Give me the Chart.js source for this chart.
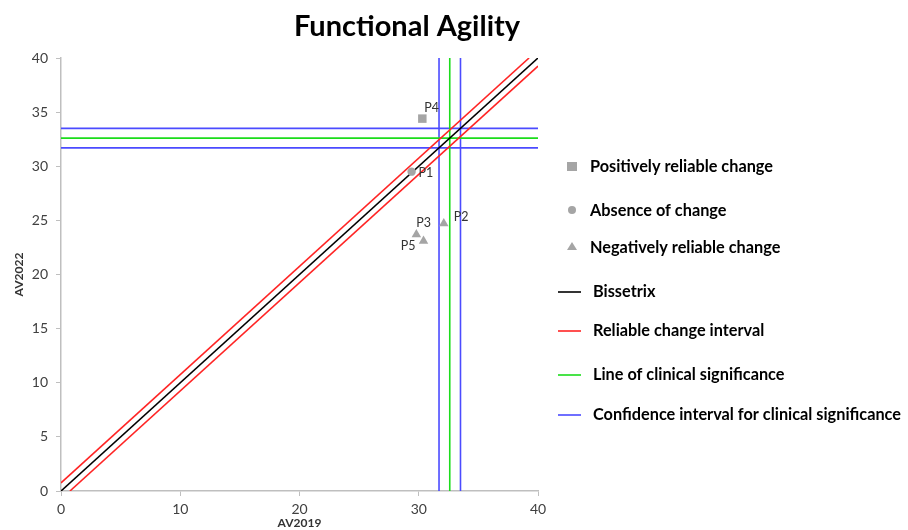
<!DOCTYPE html>
<html>
<head>
<meta charset="utf-8">
<script src="https://cdn.jsdelivr.net/npm/chart.js@4.4.0/dist/chart.umd.min.js"></script>
<style>
  html, body { margin: 0; padding: 0; background: #fff; }
</style>
</head>
<body>
<canvas id="grafico" width="908" height="530"></canvas>
<script>
// Participantes y puntuaciones (AV2019 vs AV2022)
const pacientes = ['P1', 'P2', 'P3', 'P4', 'P5'];
const av2019 = [29.4, 32.1, 29.8, 30.3, 30.4];
const av2022 = [29.5, 24.7, 23.7, 34.4, 23.1];
const tipoCambio = ['absence', 'negative', 'negative', 'positive', 'negative'];

// Umbrales del gráfico
const ejeMin = 0;
const ejeMax = 40;
const puntoCorte = 32.6;      // línea de significancia clínica
const icInferior = 31.7;      // intervalo de confianza
const icSuperior = 33.5;
const intervaloCambio = 0.75; // índice de cambio fiable

const fuente = "Lato, 'Open Sans', sans-serif";

function puntosDe(tipo) {
  return pacientes
    .map((p, i) => ({ x: av2019[i], y: av2022[i], etiqueta: p, tipo: tipoCambio[i] }))
    .filter(d => d.tipo === tipo);
}

function linea(label, datos, color, enLeyenda) {
  return {
    label,
    data: datos,
    showLine: true,
    borderColor: color,
    backgroundColor: color,
    borderWidth: 1.6,
    pointRadius: 0,
    enLeyenda
  };
}

function punto(label, datos, estilo, radio) {
  return {
    label,
    data: datos,
    pointStyle: estilo,
    pointRadius: radio,
    backgroundColor: '#a5a5a5',
    borderColor: '#a0a0a0',
    borderWidth: 0,
    etiquetas: true,
    enLeyenda: true
  };
}

const azul = '#4b4bff';
const verde = '#1bdc1b';
const rojo = '#ff2424';

const datasets = [
  punto('Positively reliable change', puntosDe('positive'), 'rect', 6),
  punto('Absence of change', puntosDe('absence'), 'circle', 4.2),
  punto('Negatively reliable change', puntosDe('negative'), 'triangle', 5.5),
  linea('Bissetrix', [{ x: ejeMin, y: ejeMin }, { x: ejeMax, y: ejeMax }], '#000000', true),
  linea('Reliable change interval', [{ x: ejeMin, y: ejeMin + intervaloCambio }, { x: ejeMax - intervaloCambio, y: ejeMax }], rojo, true),
  linea('RCI inferior', [{ x: ejeMin + intervaloCambio, y: ejeMin }, { x: ejeMax, y: ejeMax - intervaloCambio }], rojo, false),
  linea('Line of clinical significance', [{ x: puntoCorte, y: ejeMin }, { x: puntoCorte, y: ejeMax }], verde, true),
  linea('Corte horizontal', [{ x: ejeMin, y: puntoCorte }, { x: ejeMax, y: puntoCorte }], verde, false),
  linea('Confidence interval for clinical significance', [{ x: icInferior, y: ejeMin }, { x: icInferior, y: ejeMax }], azul, true),
  linea('IC superior vertical', [{ x: icSuperior, y: ejeMin }, { x: icSuperior, y: ejeMax }], azul, false),
  linea('IC inferior horizontal', [{ x: ejeMin, y: icInferior }, { x: ejeMax, y: icInferior }], azul, false),
  linea('IC superior horizontal', [{ x: ejeMin, y: icSuperior }, { x: ejeMax, y: icSuperior }], azul, false)
];

// Posición de las etiquetas de cada participante respecto a su marcador
const desplazamientos = {
  P1: { dx: 7, dy: 1, align: 'left' },
  P2: { dx: 10, dy: -7, align: 'left' },
  P3: { dx: 0, dy: -11, align: 'left' },
  P4: { dx: 2, dy: -11, align: 'left' },
  P5: { dx: -8, dy: 5, align: 'right' }
};

const pluginEtiquetas = {
  id: 'etiquetas',
  afterDatasetsDraw(chart) {
    const ctx = chart.ctx;
    ctx.save();
    ctx.font = `12.5px ${fuente}`;
    ctx.fillStyle = '#333';
    ctx.textBaseline = 'middle';
    chart.data.datasets.forEach((ds, i) => {
      if (!ds.etiquetas) return;
      chart.getDatasetMeta(i).data.forEach((el, j) => {
        const nombre = ds.data[j].etiqueta;
        const d = desplazamientos[nombre] || { dx: 6, dy: 0, align: 'left' };
        ctx.textAlign = d.align;
        ctx.fillText(nombre, el.x + d.dx, el.y + d.dy);
      });
    });
    ctx.restore();
  }
};

// Título y leyenda dibujados a mano para respetar la disposición original
const pluginLeyenda = {
  id: 'leyendaManual',
  afterDraw(chart) {
    const ctx = chart.ctx;
    ctx.save();
    ctx.font = `bold 29px ${fuente}`;
    ctx.fillStyle = '#000';
    ctx.textAlign = 'center';
    ctx.textBaseline = 'middle';
    ctx.fillText('Functional Agility', 407, 27);

    const items = chart.data.datasets.filter(ds => ds.enLeyenda);
    ctx.font = `bold 16.3px ${fuente}`;
    ctx.textAlign = 'left';
    const ys = [167, 211, 248, 292, 331, 375, 415];
    items.forEach((ds, i) => {
      const y = ys[i];
      if (ds.showLine) {
        ctx.strokeStyle = ds.borderColor;
        ctx.lineWidth = 1.6;
        ctx.beginPath();
        ctx.moveTo(558, y);
        ctx.lineTo(581, y);
        ctx.stroke();
        ctx.fillStyle = '#000';
        ctx.fillText(ds.label, 593, y);
      } else {
        ctx.fillStyle = ds.backgroundColor;
        ctx.beginPath();
        if (ds.pointStyle === 'rect') {
          ctx.rect(567, y - 5, 10, 9);
        } else if (ds.pointStyle === 'circle') {
          ctx.arc(572, y - 1, 4, 0, Math.PI * 2);
        } else {
          ctx.moveTo(572, y - 6);
          ctx.lineTo(577, y + 2);
          ctx.lineTo(567, y + 2);
          ctx.closePath();
        }
        ctx.fill();
        ctx.fillStyle = '#000';
        ctx.fillText(ds.label, 590, y);
      }
    });
    ctx.restore();
  }
};

const grisEje = '#bfbfbf';

new Chart(document.getElementById('grafico'), {
  type: 'scatter',
  data: { datasets },
  options: {
    responsive: false,
    devicePixelRatio: 1,
    animation: false,
    layout: { padding: { top: 58, right: 370, left: 0, bottom: 0 } },
    plugins: {
      legend: { display: false },
      tooltip: { enabled: false }
    },
    scales: {
      x: {
        type: 'linear',
        min: ejeMin,
        max: ejeMax,
        afterFit: scale => { scale.height = 39; },
        grid: { drawOnChartArea: false, drawTicks: true, tickLength: 5, color: grisEje },
        border: { color: grisEje, width: 1.5 },
        ticks: { stepSize: 10, padding: 5, color: '#404040', font: { family: fuente, size: 14 } },
        title: { display: true, text: 'AV2019', color: '#333', padding: 0, font: { family: fuente, size: 12, weight: 'bold' } }
      },
      y: {
        type: 'linear',
        min: ejeMin,
        max: ejeMax,
        afterFit: scale => { scale.width = 61; },
        grid: { drawOnChartArea: false, drawTicks: true, tickLength: 5, color: grisEje },
        border: { color: grisEje, width: 1.5 },
        ticks: { stepSize: 5, padding: 8, color: '#404040', font: { family: fuente, size: 14 } },
        title: { display: true, text: 'AV2022', color: '#333', padding: { top: 12 }, font: { family: fuente, size: 12, weight: 'bold' } }
      }
    }
  },
  plugins: [pluginEtiquetas, pluginLeyenda]
});
</script>
</body>
</html>
